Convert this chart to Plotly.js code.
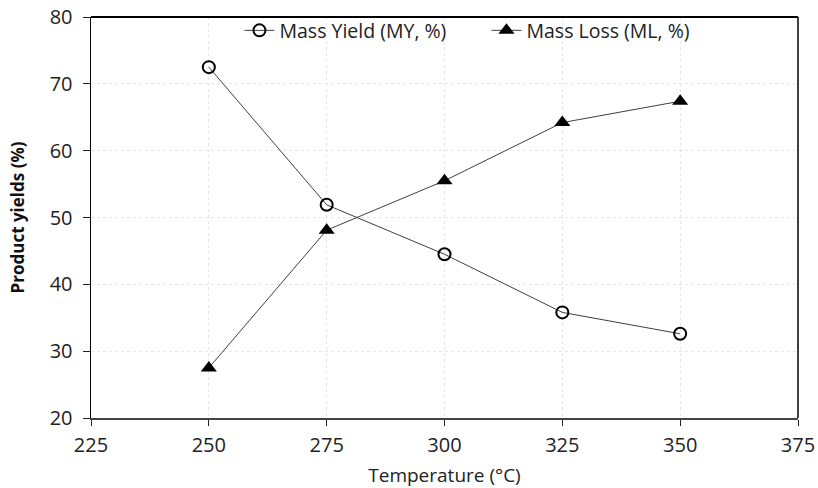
<!DOCTYPE html>
<html>
<head>
<meta charset="utf-8">
<script src="https://cdn.plot.ly/plotly-3.0.1.min.js"></script>
<style>html,body{margin:0;padding:0;background:#fff;}#chart{width:818px;height:488px;}</style>
</head>
<body>
<div id="chart"></div>
<script>
const temperature = [250, 275, 300, 325, 350];
const massYield = [72.5, 51.9, 44.5, 35.8, 32.6];
const massLoss = [27.5, 48.1, 55.5, 64.2, 67.4];
const xTicks = [225, 250, 275, 300, 325, 350, 375];
const yTicks = [20, 30, 40, 50, 60, 70, 80];

const fontFam = "Open Sans, Noto Sans, sans-serif";

const traces = [
  {
    x: temperature, y: massYield, name: 'Mass Yield (MY, %)',
    type: 'scatter', mode: 'lines+markers',
    line: {color: '#404040', width: 1},
    marker: {symbol: 'circle-open', size: 12, color: '#000', line: {width: 2, color: '#000'}}
  },
  {
    x: temperature, y: massLoss, name: 'Mass Loss (ML, %)',
    type: 'scatter', mode: 'lines+markers',
    line: {color: '#404040', width: 1},
    marker: {symbol: 'triangle-up', size: 14, color: '#000'}
  }
];

const layout = {
  width: 818, height: 488,
  margin: {l: 91, r: 20, t: 16, b: 70},
  paper_bgcolor: '#fff', plot_bgcolor: '#fff',
  font: {family: fontFam, color: '#222', size: 18},
  showlegend: true,
  legend: {
    orientation: 'h', x: 0.21, y: 1.012, xanchor: 'left', yanchor: 'top',
    font: {size: 19.5, color: '#222', family: fontFam},
    bgcolor: 'rgba(0,0,0,0)', entrywidth: 202, entrywidthmode: 'pixels'
  },
  xaxis: {
    range: [225, 375], tickvals: xTicks, ticktext: xTicks.map(String),
    showgrid: true, gridcolor: '#e6e6e6', griddash: '3px,3px', gridwidth: 1,
    showline: true, linecolor: '#444', linewidth: 2, mirror: false,
    ticks: 'outside', ticklen: 6, tickcolor: '#222', tickwidth: 1,
    ticklabelstandoff: 2,
    zeroline: false,
    tickfont: {size: 20, color: '#222', family: fontFam},
    title: {text: 'Temperature (°C)', font: {size: 19, color: '#222', family: fontFam}, standoff: 13}
  },
  yaxis: {
    range: [20, 80], tickvals: yTicks, ticktext: yTicks.map(String),
    showgrid: true, gridcolor: '#e6e6e6', griddash: '3px,3px', gridwidth: 1,
    showline: true, linecolor: '#000', linewidth: 1.5, mirror: false,
    ticks: 'outside', ticklen: 7, tickcolor: '#222', tickwidth: 1,
    ticklabelstandoff: 6,
    zeroline: false,
    tickfont: {size: 20, color: '#222', family: fontFam},
    title: {text: '<b>Product yields (%)</b>', font: {size: 17, color: '#111', family: fontFam}, standoff: 20}
  },
  shapes: [
    {type: 'line', xref: 'paper', yref: 'paper', x0: 0, x1: 1, y0: 1, y1: 1, line: {color: '#000', width: 2}},
    {type: 'line', xref: 'paper', yref: 'paper', x0: 1, x1: 1, y0: 0, y1: 1, line: {color: '#000', width: 1.5}}
  ]
};

Plotly.newPlot('chart', traces, layout, {displayModeBar: false, staticPlot: true});
</script>
</body>
</html>
